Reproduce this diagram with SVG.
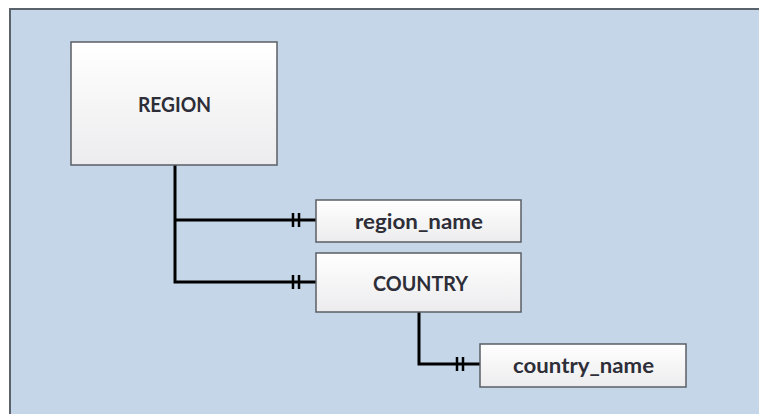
<svg xmlns="http://www.w3.org/2000/svg" width="759" height="414" viewBox="0 0 759 414">
  <style>
    .entity { stroke: #5a5f66; stroke-width: 1.5; fill: url(#boxFill); }
    .label { font-family: Lato, "Liberation Sans", sans-serif; font-weight: bold; font-size: 20px; fill: #2e2e38; text-anchor: middle; }
    .link { fill: none; stroke: #000; stroke-width: 3; }
    .tick { stroke: #000; stroke-width: 2.5; }
  </style>
  <defs>
    <linearGradient id="boxFill" x1="0" y1="0" x2="0" y2="1">
      <stop offset="0" stop-color="#ffffff"/>
      <stop offset="1" stop-color="#ececee"/>
    </linearGradient>
  </defs>

  <!-- background panel -->
  <rect x="0" y="0" width="759" height="414" fill="#ffffff"/>
  <rect x="10" y="9" width="760" height="420" fill="#c4d6e7" stroke="#5a626b" stroke-width="2"/>

  <!-- connectors -->
  <g id="connectors">
    <path class="link" d="M175 164 V282 H316"/>
    <path class="link" d="M175 220 H316"/>
    <path class="link" d="M419 312 V364 H480"/>
    <line class="tick" x1="293" y1="213" x2="293" y2="227"/>
    <line class="tick" x1="299" y1="213" x2="299" y2="227"/>
    <line class="tick" x1="293" y1="275" x2="293" y2="289"/>
    <line class="tick" x1="299" y1="275" x2="299" y2="289"/>
    <line class="tick" x1="457" y1="357" x2="457" y2="371"/>
    <line class="tick" x1="463" y1="357" x2="463" y2="371"/>
  </g>

  <g id="region">
    <rect class="entity" x="71" y="42" width="206" height="123"/>
    <text class="label" x="174.5" y="112" textLength="73" lengthAdjust="spacingAndGlyphs">REGION</text>
  </g>

  <g id="region_name">
    <rect class="entity" x="316" y="200" width="205" height="42"/>
    <text class="label" x="419" y="229" textLength="128" lengthAdjust="spacingAndGlyphs">region_name</text>
  </g>

  <g id="country">
    <rect class="entity" x="316" y="253" width="205" height="59"/>
    <text class="label" x="420.5" y="291" textLength="95" lengthAdjust="spacingAndGlyphs">COUNTRY</text>
  </g>

  <g id="country_name">
    <rect class="entity" x="480" y="344" width="206" height="43"/>
    <text class="label" x="583.5" y="373" textLength="141" lengthAdjust="spacingAndGlyphs">country_name</text>
  </g>
</svg>
